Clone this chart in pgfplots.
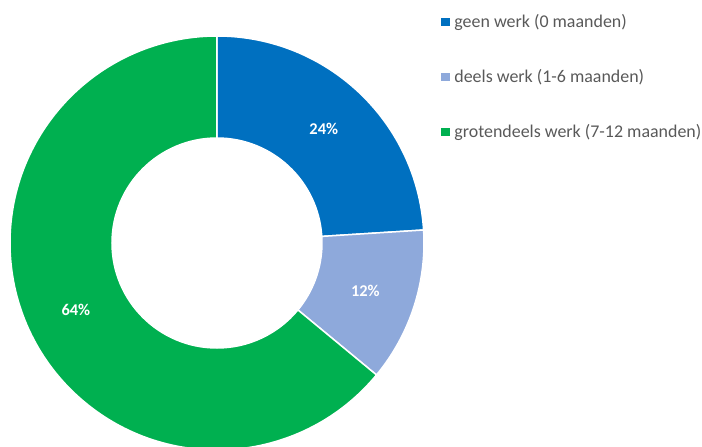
\documentclass[border=0pt]{standalone}
\usepackage{pgfplots}
\usepackage{pgfplotstable}
\pgfplotsset{compat=1.18}
\usepackage{fontspec}
\setmainfont{Carlito}
\definecolor{cA}{HTML}{0070C0}
\definecolor{cB}{HTML}{8EA9DB}
\definecolor{cC}{HTML}{00B050}
\definecolor{legtext}{HTML}{595959}
\pgfplotstableread[col sep=comma]{
label,value
geen werk (0 maanden),24
deels werk (1-6 maanden),12
grotendeels werk (7-12 maanden),64
}\data
\begin{document}
\begin{tikzpicture}
\pgfplotstablegetelem{0}{value}\of\data \let\va\pgfplotsretval
\pgfplotstablegetelem{1}{value}\of\data \let\vb\pgfplotsretval
\pgfplotstablegetelem{2}{value}\of\data \let\vc\pgfplotsretval
\pgfmathsetmacro\aA{90}
\pgfmathsetmacro\aB{\aA-3.6*\va}
\pgfmathsetmacro\aC{\aB-3.6*\vb}
\pgfmathsetmacro\aD{\aC-3.6*\vc}
\pgfmathsetmacro\mA{(\aA+\aB)/2}
\pgfmathsetmacro\mB{(\aB+\aC)/2}
\pgfmathsetmacro\mC{(\aC+\aD)/2}
\def\Ro{207bp}\def\Ri{105bp}\def\Rm{156bp}
\begin{axis}[
  at={(0,0)}, anchor=south west,
  scale only axis, x=1bp, y=1bp,
  xmin=0, xmax=702, ymin=0, ymax=447,
  hide axis, clip=false,
  legend style={at={(axis cs:441,435)}, anchor=north west, draw=none, fill=none,
    font=\fontsize{18}{21}\selectfont, text=legtext, row sep=36.5bp,
    inner sep=0pt, outer sep=0pt, nodes={inner sep=2bp}},
  legend cell align=left,
  legend image code/.code={\fill[#1] (0bp,-3.5bp) rectangle (8bp,3.5bp); \path (11bp,0);},
]
\addlegendimage{cA}\addlegendentry{geen werk (0 maanden)}
\addlegendimage{cB}\addlegendentry{deels werk (1-6 maanden)}
\addlegendimage{cC}\addlegendentry{grotendeels werk (7-12 maanden)}
\path[fill=cA, draw=white, line width=1.5bp]
  ([shift={(axis cs:217,204)}] \aA:\Ro) arc[start angle=\aA, end angle=\aB, radius=\Ro]
  -- ([shift={(axis cs:217,204)}] \aB:\Ri) arc[start angle=\aB, end angle=\aA, radius=\Ri] -- cycle;
\path[fill=cB, draw=white, line width=1.5bp]
  ([shift={(axis cs:217,204)}] \aB:\Ro) arc[start angle=\aB, end angle=\aC, radius=\Ro]
  -- ([shift={(axis cs:217,204)}] \aC:\Ri) arc[start angle=\aC, end angle=\aB, radius=\Ri] -- cycle;
\path[fill=cC, draw=white, line width=1.5bp]
  ([shift={(axis cs:217,204)}] \aC:\Ro) arc[start angle=\aC, end angle=\aD, radius=\Ro]
  -- ([shift={(axis cs:217,204)}] \aD:\Ri) arc[start angle=\aD, end angle=\aC, radius=\Ri] -- cycle;
\node[text=white, font=\fontsize{16.5}{19}\selectfont\bfseries] at ([shift={(axis cs:217,204)}] \mA:\Rm) {\va\%};
\node[text=white, font=\fontsize{16.5}{19}\selectfont\bfseries] at ([shift={(axis cs:217,204)}] \mB:\Rm) {\vb\%};
\node[text=white, font=\fontsize{16.5}{19}\selectfont\bfseries] at ([shift={(axis cs:217,204)}] \mC:\Rm) {\vc\%};
\end{axis}
\pgfresetboundingbox
\useasboundingbox (0,0) rectangle (702bp,447bp);
\end{tikzpicture}
\end{document}
